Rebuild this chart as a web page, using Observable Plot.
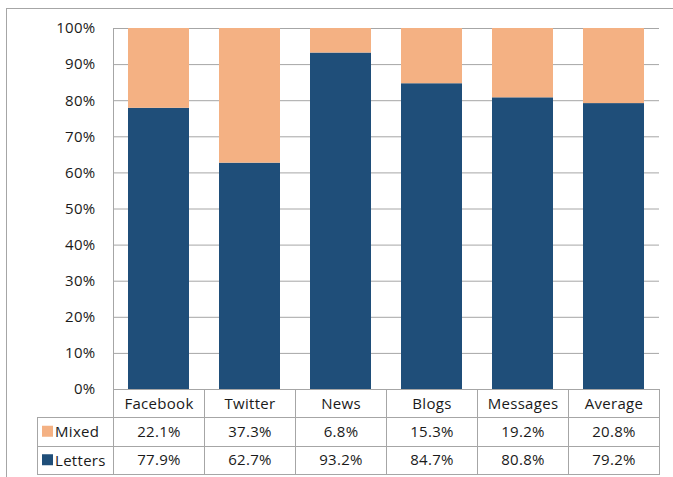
<!DOCTYPE html>
<html>
<head>
<meta charset="utf-8">
<script src="https://cdn.jsdelivr.net/npm/d3@7"></script>
<script src="https://cdn.jsdelivr.net/npm/@observablehq/plot@0.6"></script>
<style>
  html, body { margin: 0; padding: 0; background: #fff; }
  #chart { width: 673px; height: 477px; overflow: hidden; }
  svg { font-family: "Open Sans", sans-serif; }
</style>
</head>
<body>
<div id="chart"></div>
<script>
const categories = ["Facebook", "Twitter", "News", "Blogs", "Messages", "Average"];
const seriesNames = ["Letters", "Mixed"];
const letters = [77.9, 62.7, 93.2, 84.7, 80.8, 79.2];
const mixed = [22.1, 37.3, 6.8, 15.3, 19.2, 20.8];
const yTicks = [0, 10, 20, 30, 40, 50, 60, 70, 80, 90, 100];
const colors = {Letters: "#1F4E79", Mixed: "#F4B183"};

const rows = [];
categories.forEach((c, i) => rows.push({category: c, series: "Letters", value: letters[i] / 100}));
categories.forEach((c, i) => rows.push({category: c, series: "Mixed", value: mixed[i] / 100}));

const W = 673, H = 477;
const mL = 113, mR = 14, mT = 28, mB = 88;
const textColor = "#1a1a1a";
const lineColor = "#a6a6a6";
const fs = 15;
const ls = "0.3px";

const plot = Plot.plot({
  width: W,
  height: H,
  marginLeft: mL,
  marginRight: mR,
  marginTop: mT,
  marginBottom: mB,
  style: {fontSize: fs + "px", color: textColor, fontFamily: "Open Sans, sans-serif", letterSpacing: ls},
  x: {domain: categories, paddingInner: 0.33, paddingOuter: 0.165, axis: null},
  y: {domain: [0, 1], ticks: yTicks.map(d => d / 100), tickFormat: d => Math.round(d * 100) + "%", tickSize: 0, tickPadding: 18, label: null},
  color: {domain: seriesNames, range: seriesNames.map(s => colors[s])},
  marks: [
    Plot.ruleY(yTicks.map(d => d / 100), {stroke: lineColor, strokeWidth: 1, strokeOpacity: 1}),
    Plot.barY(rows, Plot.stackY({order: seriesNames}, {x: "category", y: "value", fill: "series", inset: 0})),
    Plot.text(categories, {x: d => d, frameAnchor: "bottom", lineAnchor: "middle", dy: 15, fill: textColor, fontSize: fs}),
    Plot.text(mixed, {x: (d, i) => categories[i], text: d => d.toFixed(1) + "%", frameAnchor: "bottom", lineAnchor: "middle", dy: 43, fill: textColor, fontSize: fs}),
    Plot.text(letters, {x: (d, i) => categories[i], text: d => d.toFixed(1) + "%", frameAnchor: "bottom", lineAnchor: "middle", dy: 71, fill: textColor, fontSize: fs})
  ]
});

// Table grid & legend drawn using the plot's x scale
const svg = d3.select(plot);
const xs = plot.scale("x");
const step = xs.step;
const x0 = mL;
const x1 = W - mR;
const yAxis = H - mB;
const rowH = 28.5;
const tableLeft = 37;
const g = svg.append("g").attr("stroke", lineColor).attr("stroke-width", 1).attr("shape-rendering", "crispEdges");
const bounds = d3.range(categories.length + 1).map(i => x0 + i * step);
bounds.forEach((bx, i) => {
  g.append("line").attr("x1", bx).attr("x2", bx)
    .attr("y1", i === 0 ? mT : yAxis).attr("y2", yAxis + rowH * 3);
});
[1, 2, 3].forEach(k => {
  g.append("line").attr("x1", tableLeft).attr("x2", x1)
    .attr("y1", yAxis + rowH * k).attr("y2", yAxis + rowH * k);
});
g.append("line").attr("x1", tableLeft).attr("x2", tableLeft)
  .attr("y1", yAxis + rowH).attr("y2", yAxis + rowH * 3);
g.append("line").attr("x1", 6).attr("x2", W).attr("y1", 8).attr("y2", 8);
g.append("line").attr("x1", 6).attr("x2", 6).attr("y1", 8).attr("y2", H);

const leg = svg.append("g").attr("text-anchor", "start");
["Mixed", "Letters"].forEach((s, k) => {
  const cy = yAxis + rowH * (k + 1) + rowH / 2;
  leg.append("rect").attr("x", 42).attr("y", cy - 6).attr("width", 11).attr("height", 11).attr("fill", colors[s]);
  leg.append("text").attr("x", 55).attr("y", cy).attr("dy", "0.35em").attr("fill", textColor)
    .attr("text-anchor", "start").attr("font-size", fs).text(s);
});

document.getElementById("chart").appendChild(plot);
</script>
</body>
</html>
